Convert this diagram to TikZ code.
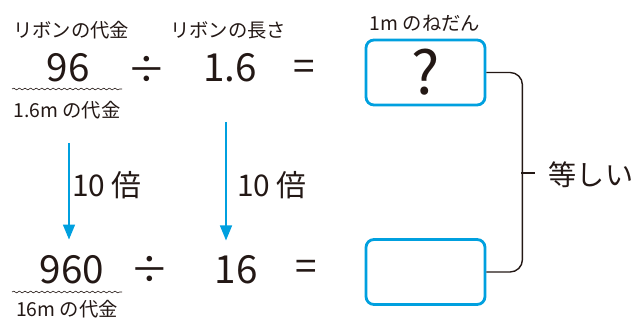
\documentclass[tikz,border=0pt]{standalone}
\usepackage{fontspec}
\setmainfont{Noto Sans CJK JP}
\definecolor{rbText}{RGB}{35,24,21}
\definecolor{rbBlue}{RGB}{0,160,223}
\usetikzlibrary{arrows.meta,positioning,decorations.pathmorphing}

\begin{document}
\begin{tikzpicture}[x=0.02cm, y=-0.02cm, text=rbText,
    big/.style={font=\fontsize{22}{22}\selectfont, inner sep=0pt},
    lbl/.style={font=\fontsize{11}{11}\selectfont, inner sep=0pt},
    mid/.style={font=\fontsize{17}{17}\selectfont, inner sep=0pt},
    ansbox/.style={draw=rbBlue, line width=1.6pt, rounded corners=4.5pt,
        minimum width=2.38cm, minimum height=1.3cm, inner sep=0pt},
    tenx/.style={-{Triangle[width=6.8pt,length=8.5pt]}, rbBlue, line width=0.85pt},
    conn/.style={draw=rbText, line width=0.8pt},
    wavy/.style={draw=rbText, line width=0.35pt, decorate,
        decoration={snake, amplitude=0.5pt, segment length=3.2pt}}]
    \useasboundingbox (0,0) rectangle (644,327);

    % top row
    \node[lbl] (costL) at (71,30) {リボンの代金};
    \node[lbl] (lenL) at (228,30) {リボンの長さ};
    \node[big] (n96) at (68,68) {96};
    \node[big] (div1) at (147,70) {÷};
    \node[big] (n16a) at (230,68) {1.6};
    \node[big] (eq1) at (304,70) {=};
    \draw[wavy] (12,89) -- (122,89);
    \node[lbl] (costA) at (67,110) {1.6m の代金};

    \node[lbl] (unitL) at (425,23) {1m のねだん};
    \node[ansbox, font=\fontsize{34}{34}\selectfont] (qbox) at (425.5,72.5) {?};

    % bottom row
    \node[big] (n960) at (72,270) {960};
    \node[big] (div2) at (150,270) {÷};
    \node[big] (n16) at (236,270) {16};
    \node[big] (eq2) at (306,270) {=};
    \draw[wavy] (12,292) -- (122,292);
    \node[lbl] (costB) at (67,309) {16m の代金};

    \node[ansbox] (abox) at (425.5,272) {};

    % 10 times arrows
    \coordinate (a1s) at (69,143);
    \coordinate (a2s) at (226,122);
    \draw[tenx, shorten >=9pt] (a1s) -- (a1s |- n960.north);
    \draw[tenx, shorten >=8.5pt] (a2s) -- (a2s |- n16.north);
    \node[mid] (ten1) at (107,185) {10 倍};
    \node[mid] (ten2) at (272,185) {10 倍};

    % bracket
    \draw[conn, rounded corners=7pt] (qbox.east) -- ++(36,0) |- (abox.east);
    \node[font=\fontsize{16}{16}\selectfont, inner sep=0pt] (same) at (591,175) {等しい};
    \coordinate (brk) at (521,173);
    \draw[conn, shorten >=7.4pt] (brk) -- (same.west |- brk);
\end{tikzpicture}
\end{document}
